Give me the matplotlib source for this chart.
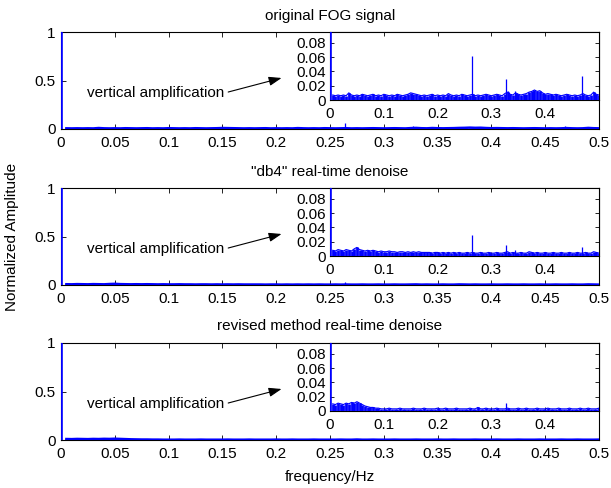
import numpy as np
import matplotlib.pyplot as plt

plt.rcParams['font.family'] = ['Liberation Sans', 'DejaVu Sans']
plt.rcParams['font.size'] = 11

# frequency grid of the read-off noise floor (Hz), DC term at 0
freqs = np.arange(0, 101) * 0.005

# noise floor envelope (f = 0.005 ... 0.5)
env_orig = [0.007, 0.006, 0.007, 0.006, 0.007, 0.006, 0.010, 0.007, 0.006, 0.007,
            0.006, 0.008, 0.007, 0.006, 0.007, 0.008, 0.006, 0.007, 0.006, 0.008,
            0.007, 0.006, 0.007, 0.006, 0.008, 0.007, 0.006, 0.007, 0.008, 0.010,
            0.009, 0.008, 0.007, 0.006, 0.007, 0.006, 0.007, 0.008, 0.006, 0.007,
            0.006, 0.007, 0.006, 0.009, 0.007, 0.006, 0.007, 0.006, 0.008, 0.007,
            0.006, 0.007, 0.008, 0.006, 0.007, 0.006, 0.007, 0.008, 0.007, 0.006,
            0.007, 0.008, 0.007, 0.006, 0.009, 0.011, 0.008, 0.007, 0.010, 0.008,
            0.007, 0.008, 0.009, 0.011, 0.012, 0.014, 0.012, 0.013, 0.010, 0.008,
            0.009, 0.008, 0.007, 0.008, 0.007, 0.006, 0.007, 0.008, 0.007, 0.006,
            0.007, 0.006, 0.007, 0.009, 0.007, 0.006, 0.007, 0.011, 0.008, 0.007]
env_db4 = [0.008, 0.007, 0.009, 0.008, 0.007, 0.009, 0.008, 0.007, 0.010, 0.012,
           0.009, 0.008, 0.007, 0.008, 0.007, 0.008, 0.007, 0.006, 0.007, 0.006,
           0.006, 0.007, 0.006, 0.006, 0.005, 0.006, 0.006, 0.005, 0.006, 0.005,
           0.006, 0.005, 0.006, 0.005, 0.005, 0.005, 0.005, 0.004, 0.005, 0.005,
           0.004, 0.005, 0.004, 0.005, 0.004, 0.005, 0.004, 0.005, 0.004, 0.004,
           0.005, 0.004, 0.005, 0.004, 0.004, 0.005, 0.004, 0.004, 0.005, 0.004,
           0.004, 0.005, 0.004, 0.004, 0.005, 0.006, 0.004, 0.005, 0.004, 0.004,
           0.005, 0.004, 0.004, 0.006, 0.005, 0.004, 0.005, 0.004, 0.004, 0.005,
           0.004, 0.004, 0.005, 0.004, 0.004, 0.005, 0.004, 0.004, 0.005, 0.004,
           0.004, 0.005, 0.004, 0.004, 0.005, 0.004, 0.004, 0.006, 0.005, 0.004]
env_rev = [0.010, 0.009, 0.011, 0.010, 0.009, 0.011, 0.010, 0.012, 0.011, 0.013,
           0.011, 0.009, 0.007, 0.006, 0.005, 0.005, 0.004, 0.004, 0.003, 0.003,
           0.003, 0.004, 0.003, 0.003, 0.003, 0.004, 0.003, 0.003, 0.003, 0.003,
           0.004, 0.003, 0.003, 0.003, 0.004, 0.003, 0.003, 0.003, 0.003, 0.004,
           0.003, 0.003, 0.004, 0.003, 0.003, 0.003, 0.004, 0.003, 0.003, 0.003,
           0.003, 0.004, 0.003, 0.003, 0.005, 0.003, 0.003, 0.004, 0.003, 0.003,
           0.003, 0.004, 0.003, 0.003, 0.003, 0.004, 0.003, 0.003, 0.003, 0.004,
           0.003, 0.003, 0.004, 0.003, 0.003, 0.003, 0.004, 0.003, 0.003, 0.003,
           0.004, 0.003, 0.003, 0.003, 0.004, 0.003, 0.003, 0.003, 0.004, 0.003,
           0.003, 0.003, 0.004, 0.003, 0.003, 0.004, 0.003, 0.003, 0.003, 0.004]
dc_value = 1.0

# narrow spectral lines (Hz, normalized amplitude)
spike_f_orig = [0.264, 0.327, 0.331, 0.343, 0.468]
spike_a_orig = [0.062, 0.030, 0.013, 0.012, 0.033]
spike_f_db4 = [0.264, 0.327, 0.343, 0.468]
spike_a_db4 = [0.030, 0.015, 0.008, 0.013]
spike_f_rev = [0.327]
spike_a_rev = [0.011]

titles = ['original FOG signal', '"db4" real-time denoise',
          'revised method real-time denoise']
main_xticks = [0, 0.05, 0.1, 0.15, 0.2, 0.25, 0.3, 0.35, 0.4, 0.45, 0.5]
main_xlabels = ['0', '0.05', '0.1', '0.15', '0.2', '0.25', '0.3', '0.35', '0.4', '0.45', '0.5']
main_yticks = [0, 0.5, 1]
inset_xticks = [0, 0.1, 0.2, 0.3, 0.4]
inset_yticks = [0, 0.02, 0.04, 0.06, 0.08]

panels = [(env_orig, spike_f_orig, spike_a_orig),
          (env_db4, spike_f_db4, spike_a_db4),
          (env_rev, spike_f_rev, spike_a_rev)]

fig = plt.figure(figsize=(6.11, 4.88), dpi=100)

# axes top edge in pixels for each panel
tops = [32, 188, 343]
H = 488.0
W = 611.0


def draw_spectrum(ax, env, sf, sa, floor_lw):
    ax.vlines(freqs[1:], 0, env, color='blue', lw=2.0, zorder=3)
    ax.plot(freqs[1:], env, color='blue', lw=floor_lw, zorder=3)
    ax.vlines([freqs[0]], 0, [dc_value], color='blue', lw=2.6, zorder=3)
    ax.vlines(sf, 0, sa, color='blue', lw=0.9, zorder=3)


for i, (env, sf, sa) in enumerate(panels):
    top = tops[i]
    ax = fig.add_axes([61 / W, 1 - (top + 97) / H, 538 / W, 97 / H])
    draw_spectrum(ax, env, sf, sa, 1.8)
    ax.set_xlim(0, 0.5)
    ax.set_ylim(0, 1)
    ax.set_xticks(main_xticks)
    ax.set_xticklabels(main_xlabels)
    ax.set_yticks(main_yticks)
    ax.set_yticklabels(['0', '0.5', '1'])
    ax.tick_params(direction='in', top=True, right=True, length=3.5, width=0.6)
    ax.tick_params(axis='x', pad=5)
    ax.tick_params(axis='y', pad=4)
    for s in ax.spines.values():
        s.set_linewidth(0.8)
    ax.set_title(titles[i], pad=9, fontsize=11)
    ax.annotate('vertical amplification', xy=(0.205, 0.526), xytext=(0.024, 0.37),
                va='center', ha='left',
                arrowprops=dict(arrowstyle='-|>,head_length=0.7,head_width=0.25',
                                color='black', lw=0.8, relpos=(1.0, 0.5),
                                shrinkA=1, shrinkB=0))

    ins = fig.add_axes([330 / W, 1 - (top + 68) / H, 269 / W, 68 / H])
    ins.set_facecolor('white')
    draw_spectrum(ins, env, sf, sa, 0.8)
    ins.set_xlim(0, 0.5)
    ins.set_ylim(0, 0.095)
    ins.set_xticks(inset_xticks)
    ins.set_xticklabels(['0', '0.1', '0.2', '0.3', '0.4'])
    ins.set_yticks(inset_yticks)
    ins.set_yticklabels(['0', '0.02', '0.04', '0.06', '0.08'])
    ins.tick_params(direction='in', top=True, right=True, length=3, width=0.6)
    ins.tick_params(axis='x', pad=5)
    ins.tick_params(axis='y', pad=3)
    for s in ins.spines.values():
        s.set_linewidth(0.8)

fig.text(12 / W, 1 - 236.5 / H, 'Normalized Amplitude', rotation=90,
         ha='center', va='center', fontsize=11)
fig.text(330 / W, 1 - 477 / H, 'frequency/Hz', ha='center', va='center', fontsize=11)

fig.savefig('out.png', dpi=100)
